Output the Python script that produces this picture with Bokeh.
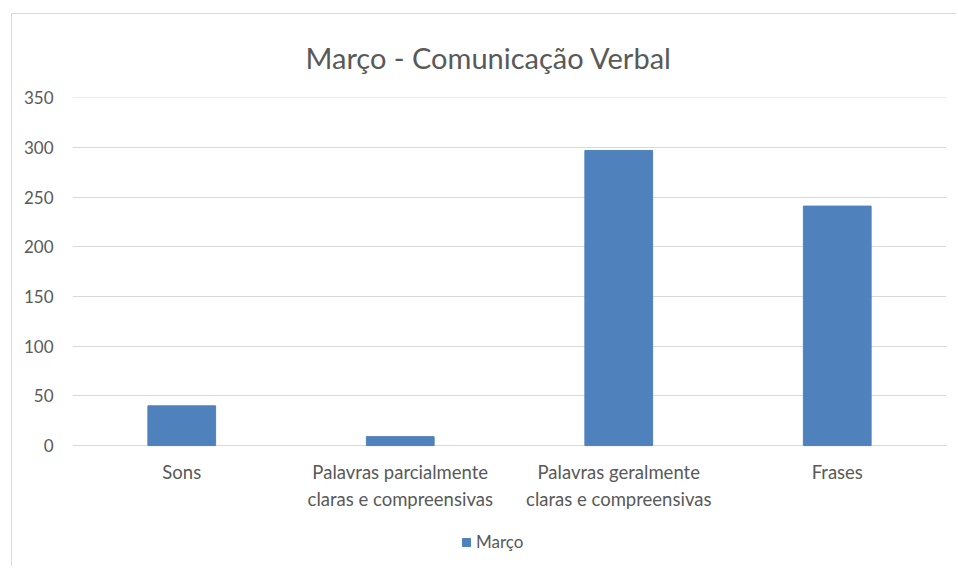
from bokeh.plotting import figure
from bokeh.models import Range1d, FixedTicker, ColumnDataSource, Legend, LegendItem, Title
from bokeh.core.properties import value
from bokeh.embed import file_html
from bokeh.resources import INLINE

categories = ["Sons", "Palavras parcialmente\nclaras e compreensivas",
              "Palavras geralmente\nclaras e compreensivas", "Frases"]
values = [40, 9, 297, 241]
series_name = "Março"
y_ticks = [0, 50, 100, 150, 200, 250, 300, 350]

FONT = "Lato"
GRAY = "#595959"
BLUE = "#4F81BD"

xs = [i + 0.5 for i in range(len(categories))]
src = ColumnDataSource(dict(x=xs, top=values))
lab = ColumnDataSource(dict(x=xs, y=[0] * len(categories), text=categories))

p = figure(width=945, height=553, output_backend="svg", toolbar_location=None,
           x_range=Range1d(0, len(categories)), y_range=Range1d(-122.7, 350.3),
           x_axis_location=None,
           min_border_left=60, min_border_right=11, min_border_top=83, min_border_bottom=0,
           margin=(13, 0, 0, 11),
           styles={"border-left": "1px solid #d9d9d9", "border-top": "1px solid #d9d9d9"})
p.outline_line_color = None

t = Title(text="Março - Comunicação Verbal", align="left", text_font=FONT,
          text_font_size="29px", text_font_style="normal", text_color=GRAY,
          standoff=46, offset=233)
p.add_layout(t, "above")

r = p.vbar(x="x", top="top", width=0.31, source=src, fill_color=BLUE, line_color=BLUE)

# category labels below the baseline
p.text(x="x", y="y", text="text", source=lab, text_font=value(FONT),
       text_font_size="18.5px", text_color=GRAY, text_align="center",
       text_baseline="top", text_line_height=1.24, y_offset=15)

p.xgrid.grid_line_color = None

p.yaxis.ticker = FixedTicker(ticks=y_ticks)
p.yaxis.axis_line_color = None
p.yaxis.major_tick_line_color = None
p.yaxis.minor_tick_line_color = None
p.yaxis.major_label_standoff = 13
p.yaxis.major_label_text_font = FONT
p.yaxis.major_label_text_font_size = "17px"
p.yaxis.major_label_text_color = GRAY
p.ygrid.grid_line_color = "#d9d9d9"

legend = Legend(items=[LegendItem(label=series_name, renderers=[r])],
                orientation="horizontal", location=(389, 15),
                label_text_font=FONT, label_text_font_size="17px", label_text_color=GRAY,
                glyph_width=10, glyph_height=10, border_line_color=None,
                background_fill_alpha=0, margin=0, padding=0, label_standoff=5)
p.add_layout(legend, "center")

open("out.html", "w").write(file_html(p, INLINE))
